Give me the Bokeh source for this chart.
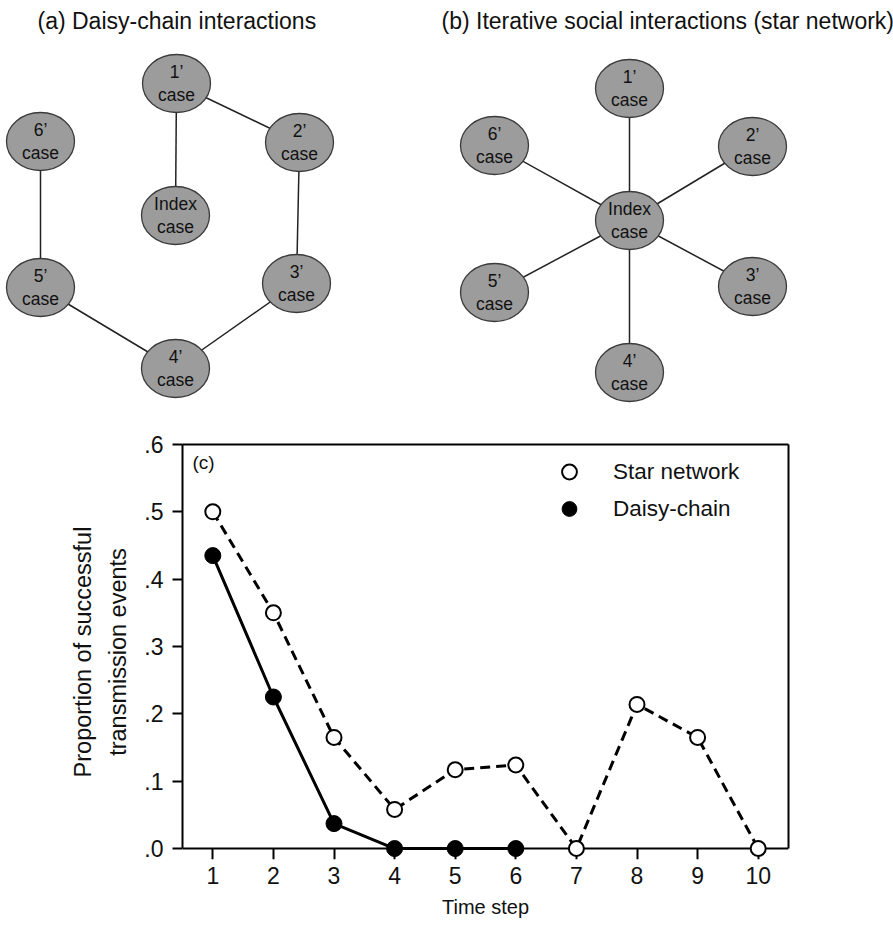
from bokeh.plotting import figure
from bokeh.models import Range1d, LinearAxis, FixedTicker, Legend, LegendItem, Label
from bokeh.embed import file_html
from bokeh.resources import INLINE
from bokeh.core.properties import value

FONT = "Liberation Sans"
INK = "#111111"

# ---------------- data (panel c) ----------------
time_steps = [1, 2, 3, 4, 5, 6, 7, 8, 9, 10]
star_network = [0.50, 0.35, 0.165, 0.058, 0.117, 0.124, 0.0, 0.214, 0.165, 0.0]
daisy_steps = [1, 2, 3, 4, 5, 6]
daisy_chain = [0.435, 0.225, 0.037, 0.0, 0.0, 0.0]
y_ticks = [0, 0.1, 0.2, 0.3, 0.4, 0.5, 0.6]
y_tick_labels = [".0", ".1", ".2", ".3", ".4", ".5", ".6"]
series_names = ["Star network", "Daisy-chain"]
panel_titles = ["(a) Daisy-chain interactions",
                "(b) Iterative social interactions (star network)", "(c)"]
axis_titles = ["Time step", "Proportion of successful\ntransmission events"]

# ---------------- network diagrams (a) and (b) ----------------
node_labels = ["Index\ncase", "1\u2019\ncase", "2\u2019\ncase", "3\u2019\ncase",
               "4\u2019\ncase", "5\u2019\ncase", "6\u2019\ncase"]
# layout positions (page pixels, y measured downwards)
daisy_node_x = [175, 176, 299, 296, 175, 40, 40]
daisy_node_y = [215, 83, 142, 283, 368, 287, 141]
daisy_edges = [(0, 1), (1, 2), (2, 3), (3, 4), (4, 5), (5, 6)]
star_node_x = [629, 629, 752, 752, 629, 494, 494]
star_node_y = [220, 88, 146, 286, 372, 292, 145]
star_edges = [(0, 1), (0, 2), (0, 3), (0, 4), (0, 5), (0, 6)]

NET_H = 405
net = figure(width=893, height=NET_H, x_range=Range1d(0, 893), y_range=Range1d(-NET_H, 0),
             x_axis_type=None, y_axis_type=None, output_backend="svg",
             toolbar_location=None, min_border=0)
net.outline_line_color = None
net.grid.visible = False

for nx, ny, edges in [(daisy_node_x, daisy_node_y, daisy_edges),
                      (star_node_x, star_node_y, star_edges)]:
    nyy = [-v for v in ny]
    net.segment(x0=[nx[a] for a, b in edges], y0=[nyy[a] for a, b in edges],
                x1=[nx[b] for a, b in edges], y1=[nyy[b] for a, b in edges],
                line_color="#222222", line_width=1.5)
    net.ellipse(x=nx, y=nyy, width=68, height=58, fill_color="#9c9c9c",
                line_color="#3a3a3a", line_width=1.3)
    net.text(x=nx, y=nyy, text=node_labels, text_align="center", text_baseline="middle",
             text_font=value(FONT), text_font_size="17.5px", text_color=INK,
             text_line_height=1.15)

net.add_layout(Label(x=37, y=-20, text=panel_titles[0], text_baseline="middle",
                     text_font=FONT, text_font_size="23px", text_color=INK))
net.add_layout(Label(x=441, y=-20, text=panel_titles[1], text_baseline="middle",
                     text_font=FONT, text_font_size="23px", text_color=INK))

# ---------------- chart (c) ----------------
x_start, x_end = 0.5, 10.5
p = figure(width=893, height=925 - NET_H, x_range=Range1d(x_start, x_end),
           y_range=Range1d(-0.0163, 0.6),
           x_axis_location=None, y_axis_location=None, output_backend="svg",
           toolbar_location=None, min_border_left=182, min_border_right=105,
           min_border_top=444 - NET_H, min_border_bottom=66)
p.outline_line_color = None
p.grid.visible = False

def style_axis(ax):
    ax.axis_line_width = 2
    ax.axis_line_color = "black"
    ax.major_tick_line_width = 2
    ax.major_tick_line_color = "black"
    ax.minor_tick_line_color = None
    ax.major_tick_in = 0
    ax.major_label_text_font = FONT
    ax.major_label_text_font_size = "23px"
    ax.major_label_text_color = INK
    ax.axis_label_text_font = FONT
    ax.axis_label_text_font_style = "normal"
    ax.axis_label_text_color = INK

# tick labels and title of the time axis (below the frame)
xlabels = LinearAxis(ticker=FixedTicker(ticks=time_steps), axis_label=axis_titles[0])
style_axis(xlabels)
xlabels.axis_line_color = None
xlabels.major_tick_line_color = None
xlabels.major_tick_out = 0
xlabels.major_label_standoff = 7
xlabels.axis_label_text_font_size = "20px"
xlabels.axis_label_standoff = 9
p.add_layout(xlabels, "below")

# time axis line and ticks at y = 0
xzero = LinearAxis(ticker=FixedTicker(ticks=time_steps), fixed_location=0)
style_axis(xzero)
xzero.major_tick_out = 11
xzero.major_label_text_color = None
p.add_layout(xzero, "below")

yaxis = LinearAxis(ticker=FixedTicker(ticks=y_ticks), bounds=(0, 0.6),
                   major_label_overrides=dict(zip(y_ticks, y_tick_labels)),
                   axis_label=axis_titles[1])
style_axis(yaxis)
yaxis.major_tick_out = 10
yaxis.major_label_standoff = 9
yaxis.axis_label_text_font_size = "23.5px"
yaxis.axis_label_text_line_height = 1.35
yaxis.axis_label_standoff = 10
p.add_layout(yaxis, "left")

for side, bnds in [("above", "auto"), ("right", (0, 0.6))]:
    ax = LinearAxis(ticker=FixedTicker(ticks=[]), bounds=bnds)
    ax.axis_line_width = 2
    ax.axis_line_color = "black"
    ax.major_tick_line_color = None
    ax.minor_tick_line_color = None
    ax.major_label_text_font_size = "0px"
    p.add_layout(ax, side)

p.line(time_steps, star_network, line_color="black", line_width=3, line_dash="10 6")
p.line(daisy_steps, daisy_chain, line_color="black", line_width=3)
star_r = p.scatter(time_steps, star_network, marker="circle", size=15, fill_color="white",
                   line_color="black", line_width=2, level="overlay")
daisy_r = p.scatter(daisy_steps, daisy_chain, marker="circle", size=16, fill_color="black",
                    line_color="black", line_width=1, level="overlay")

legend = Legend(items=[LegendItem(label=series_names[0], renderers=[star_r]),
                       LegendItem(label=series_names[1], renderers=[daisy_r])],
                location=(367, 332), padding=0, margin=0, spacing=0,
                glyph_width=40, glyph_height=37, label_height=37, label_standoff=24,
                label_text_font=FONT, label_text_font_size="22.5px", label_text_color=INK,
                border_line_color=None, background_fill_alpha=0)
p.add_layout(legend)

p.add_layout(Label(x=10, y=397, x_units="screen", y_units="screen", text=panel_titles[2],
                   text_baseline="middle", text_font=FONT, text_font_size="19px",
                   text_color=INK))

open("out.html", "w").write(file_html([net, p], INLINE))
